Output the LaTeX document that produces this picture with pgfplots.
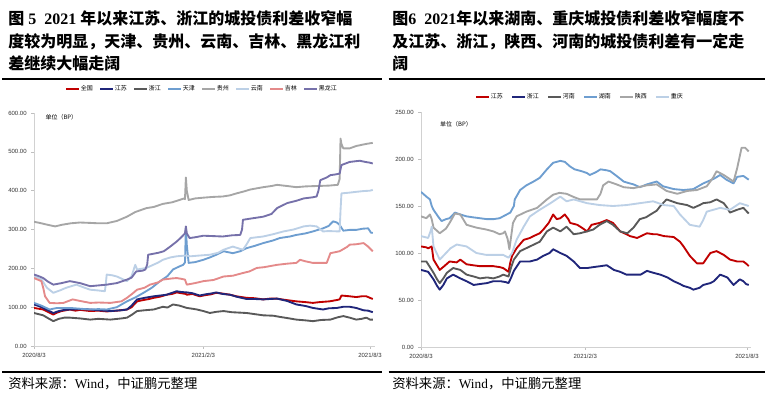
\documentclass[border=0pt]{standalone}
\usepackage{fontspec}
\usepackage{pgfplots}
\pgfplotsset{compat=1.18}
\setmainfont{Liberation Serif}
\newfontfamily\cjk{Noto Sans CJK SC}
\newfontfamily\cjkb{Noto Sans CJK SC Bold}
\newfontfamily\tickf{Liberation Sans}
\definecolor{cRed}{RGB}{192,0,0}
\definecolor{cNavy}{RGB}{32,38,122}
\definecolor{cDark}{RGB}{89,89,89}
\definecolor{cBlue}{RGB}{110,158,208}
\definecolor{cGray}{RGB}{166,166,166}
\definecolor{cLight}{RGB}{188,208,230}
\definecolor{cPink}{RGB}{228,138,138}
\definecolor{cPurple}{RGB}{118,113,170}
\pgfplotsset{
 mystyle/.style={
  scale only axis, axis x line=bottom, axis y line=left,
  axis line style={-, draw=black!18, line width=0.6pt},
  tick style={draw=black!25, line width=0.5pt},
  tick align=outside, major tick length=2pt,
  xmin=0, xmax=370, ymin=0,
  xtick={0,184,365}, xticklabels={2020/8/3,2021/2/3,2021/8/3},
  every tick label/.append style={font=\tickf\fontsize{4.5}{5}\selectfont, text=black!80},
  y tick label style={/pgf/number format/.cd, fixed, fixed zerofill, precision=2, assume math mode=true},
  scaled y ticks=false,
  legend style={draw=none, fill=none, legend columns=-1,
    font=\cjk\fontsize{4.5}{5}\selectfont,
    /tikz/every even column/.append style={column sep=4pt},
    nodes={inner sep=0.8pt}},
  legend image code/.code={\draw[##1, line width=1.4pt] (0pt,0pt) -- (9.5pt,0pt);},
  every axis plot/.append style={line width=1.4pt, line join=round},
 }
}
\begin{document}
\begin{tikzpicture}
\useasboundingbox (0,0) rectangle (577.5pt,-299.25pt);
% titles
\node[anchor=base west, inner sep=0, font=\fontsize{12}{14}\selectfont\bfseries] at (6pt,-18.75pt) {{\cjkb 图}~5~~2021~{\cjkb 年以来江苏、浙江的城投债利差收窄幅}};
\node[anchor=base west, inner sep=0, font=\fontsize{12}{14}\selectfont\bfseries] at (6pt,-36pt) {\cjkb 度较为明显，天津、贵州、云南、吉林、黑龙江利};
\node[anchor=base west, inner sep=0, font=\fontsize{12}{14}\selectfont\bfseries] at (6pt,-52.5pt) {\cjkb 差继续大幅走阔};
\node[anchor=base west, inner sep=0, font=\fontsize{12}{14}\selectfont\bfseries] at (294pt,-18.75pt) {{\cjkb 图}6~~2021{\cjkb 年以来湖南、重庆城投债利差收窄幅度不}};
\node[anchor=base west, inner sep=0, font=\fontsize{12}{14}\selectfont\bfseries] at (294pt,-36pt) {\cjkb 及江苏、浙江，陕西、河南的城投债利差有一定走};
\node[anchor=base west, inner sep=0, font=\fontsize{12}{14}\selectfont\bfseries] at (294pt,-52.5pt) {\cjkb 阔};
\draw[black, line width=1.1pt] (1.5pt,-59.25pt) -- (286.5pt,-59.25pt);
\draw[black, line width=1.1pt] (291.5pt,-59.25pt) -- (574pt,-59.25pt);
\draw[black, line width=1.1pt] (1.5pt,-279pt) -- (286.5pt,-279pt);
\draw[black, line width=1.1pt] (291.5pt,-279pt) -- (574pt,-279pt);
\node[anchor=base west, inner sep=0, font=\fontsize{10}{12}\selectfont] at (6pt,-291pt) {{\cjk 资料来源：}Wind{\cjk ，中证鹏元整理}};
\node[anchor=base west, inner sep=0, font=\fontsize{10}{12}\selectfont] at (294pt,-291pt) {{\cjk 资料来源：}Wind{\cjk ，中证鹏元整理}};

% left chart
\begin{axis}[mystyle, at={(25.5pt,-259.5pt)}, anchor=south west,
  width=255.45pt, height=174.75pt, ymax=600, ytick={0,100,...,600},
  legend style={at={(0.492,1.103)}, anchor=center}]
\addplot[cRed] coordinates {(0,98)(5,96)(10,94)(15,88)(21,81)(25,86)(30,90)(39,94)(45,91)(50,93)(61,90)(70,91)(79,89)(90,91)(101,94)(106,100)(112,115)(118,118)(125,121)(130,124)(137,127)(144,132)(150,134)(155,138)(160,136)(165,134)(166,132)(172,134)(180,128)(186,131)(192,133)(198,137)(205,135)(213,132)(220,128)(231,124)(240,123)(249,120)(256,122)(264,122)(272,119)(285,115)(295,113)(303,111)(310,113)(321,115)(328,118)(332,120)(334,130)(343,128)(350,126)(356,128)(361,128)(365,124)(368,121)};
\addlegendentry{全国}
\addplot[cNavy] coordinates {(0,107)(5,103)(10,98)(15,92)(21,85)(27,90)(33,93)(39,94)(50,95)(61,94)(70,92)(83,90)(95,92)(101,94)(106,104)(112,120)(120,124)(130,128)(137,130)(144,132)(150,137)(155,141)(160,139)(166,138)(172,136)(180,130)(186,133)(192,135)(198,138)(205,134)(213,132)(220,127)(231,121)(240,121)(249,120)(256,121)(264,122)(275,116)(285,107)(295,103)(303,98)(314,94)(320,97)(329,98)(336,101)(343,101)(350,98)(358,92)(363,91)(368,87)};
\addlegendentry{江苏}
\addplot[cDark] coordinates {(0,85)(5,82)(10,79)(15,72)(21,64)(27,70)(33,73)(39,73)(50,71)(61,68)(70,70)(83,68)(95,71)(101,73)(106,80)(112,90)(120,92)(130,94)(140,101)(145,99)(151,107)(158,104)(166,98)(172,96)(177,94)(184,90)(191,85)(198,88)(206,90)(215,87)(231,85)(240,82)(249,79)(260,78)(267,75)(275,72)(285,68)(295,66)(303,64)(312,67)(322,68)(330,74)(336,77)(343,73)(350,68)(356,70)(361,73)(365,68)(368,68)};
\addlegendentry{浙江}
\addplot[cBlue] coordinates {(0,111)(8,104)(17,94)(25,98)(39,98)(50,96)(61,94)(70,95)(79,94)(90,100)(101,115)(110,125)(119,137)(128,150)(137,167)(145,180)(151,197)(158,205)(162,209)(164,215)(165,303)(166,260)(168,214)(175,216)(184,222)(191,228)(198,235)(206,244)(216,239)(224,244)(231,252)(240,258)(249,265)(260,272)(267,278)(278,282)(285,286)(295,290)(303,295)(314,303)(320,309)(325,321)(329,318)(332,312)(336,297)(343,299)(350,299)(357,302)(363,303)(366,292)(368,291)};
\addlegendentry{天津}
\addplot[cGray] coordinates {(0,320)(8,316)(15,312)(23,308)(30,312)(40,316)(50,318)(61,317)(70,316)(79,316)(90,322)(101,333)(110,345)(122,355)(130,358)(140,366)(150,370)(158,376)(163,380)(164,378)(165,434)(166,400)(168,376)(175,380)(184,382)(195,384)(205,385)(213,388)(220,393)(228,398)(235,403)(249,409)(258,412)(264,415)(275,412)(285,409)(295,411)(307,412)(320,413)(330,415)(332,430)(333,534)(334,520)(336,509)(343,509)(350,515)(354,517)(360,520)(365,522)(368,523)};
\addlegendentry{贵州}
\addplot[cLight] coordinates {(0,179)(8,172)(14,150)(21,137)(28,143)(35,150)(46,158)(55,150)(61,145)(70,143)(77,141)(78,160)(79,184)(85,182)(90,179)(101,167)(106,180)(110,209)(112,197)(122,201)(135,215)(140,222)(148,228)(155,231)(165,233)(170,231)(180,233)(191,235)(200,240)(206,248)(216,256)(224,250)(227,248)(231,262)(235,278)(249,282)(260,288)(271,295)(282,300)(293,308)(300,310)(307,308)(314,295)(320,296)(332,295)(333,350)(334,393)(343,395)(350,397)(358,399)(365,400)(368,402)};
\addlegendentry{云南}
\addplot[cPink] coordinates {(0,175)(8,167)(10,150)(12,128)(17,111)(25,110)(32,111)(42,120)(50,116)(61,111)(70,112)(83,111)(95,115)(101,124)(107,135)(112,145)(120,150)(126,158)(135,164)(140,171)(150,174)(155,175)(160,173)(164,171)(166,158)(175,162)(184,167)(195,170)(206,179)(216,181)(227,188)(234,192)(242,201)(250,203)(264,209)(275,212)(285,214)(289,222)(295,218)(303,214)(312,214)(318,214)(322,239)(332,244)(340,255)(343,261)(350,262)(358,265)(363,256)(368,244)};
\addlegendentry{吉林}
\addplot[cPurple] coordinates {(0,184)(5,180)(10,175)(15,166)(21,158)(30,162)(39,167)(50,162)(61,154)(70,156)(79,158)(90,162)(101,171)(106,176)(111,192)(118,194)(121,197)(123,210)(124,235)(135,240)(141,244)(148,256)(155,269)(160,280)(164,290)(165,308)(166,290)(169,278)(175,280)(184,284)(195,283)(205,282)(215,285)(224,286)(226,300)(227,325)(235,328)(249,333)(258,340)(264,355)(275,368)(285,374)(293,380)(303,383)(307,385)(309,400)(311,427)(318,434)(322,440)(328,442)(332,444)(333,455)(334,466)(343,474)(350,476)(354,477)(360,474)(365,472)(368,470)};
\addlegendentry{黑龙江}
\node[anchor=west, inner sep=0, font=\cjk\fontsize{4.5}{5}\selectfont] at (rel axis cs:0.033,0.983) {单位（BP）};
\end{axis}

% right chart
\begin{axis}[mystyle, at={(315.75pt,-260.25pt)}, anchor=south west,
  width=247.8pt, height=176.25pt, ymax=250, ytick={0,50,...,250},
  legend style={at={(0.48,1.064)}, anchor=center, /tikz/every even column/.append style={column sep=5.5pt}}]
\addplot[cRed] coordinates {(0,107)(6,106)(8,105)(12,107)(14,93)(21,82)(26,86)(32,91)(40,90)(44,93)(51,88)(58,87)(66,86)(74,86)(81,86)(88,85)(92,84)(98,80)(100,90)(102,97)(107,105)(115,114)(122,116)(126,118)(133,121)(137,125)(143,132)(148,141)(152,136)(156,137)(161,141)(165,136)(167,132)(175,130)(180,127)(186,123)(191,130)(200,132)(208,135)(215,132)(223,123)(230,120)(234,118)(242,116)(253,121)(260,120)(264,120)(272,118)(283,117)(290,112)(294,107)(301,97)(309,89)(316,89)(324,100)(331,102)(339,98)(346,93)(354,91)(361,91)(365,88)(367,86)};
\addlegendentry{江苏}
\addplot[cNavy] coordinates {(0,82)(8,80)(14,72)(18,65)(21,61)(25,66)(29,73)(36,77)(44,73)(51,70)(59,66)(66,67)(74,68)(81,70)(89,70)(95,69)(98,68)(101,74)(104,81)(111,91)(122,91)(130,93)(137,97)(144,100)(148,104)(152,102)(156,100)(163,97)(171,91)(178,84)(186,84)(193,85)(201,86)(208,87)(216,82)(223,80)(230,77)(238,77)(246,77)(253,81)(260,79)(268,77)(276,74)(283,70)(290,67)(294,65)(301,63)(305,61)(312,63)(316,66)(324,68)(328,70)(335,77)(343,74)(350,66)(357,72)(361,70)(364,67)(367,66)};
\addlegendentry{浙江}
\addplot[cDark] coordinates {(0,91)(6,91)(10,85)(14,79)(18,72)(21,68)(25,73)(29,79)(36,84)(44,82)(51,77)(59,75)(66,73)(74,74)(81,73)(88,75)(92,77)(98,75)(101,85)(104,93)(111,102)(122,107)(133,112)(141,123)(148,127)(152,125)(156,123)(163,128)(167,124)(171,120)(178,121)(186,123)(193,125)(200,130)(208,134)(215,130)(223,123)(231,121)(238,127)(245,136)(252,138)(257,141)(264,145)(268,150)(275,157)(281,155)(287,153)(298,151)(305,148)(312,151)(316,153)(324,154)(331,157)(339,153)(343,148)(346,143)(354,146)(361,148)(364,145)(367,142)};
\addlegendentry{河南}
\addplot[cBlue] coordinates {(0,165)(6,160)(10,157)(12,150)(14,146)(19,139)(23,134)(28,136)(32,137)(38,143)(44,141)(51,139)(58,138)(66,137)(74,136)(81,136)(88,137)(92,139)(100,143)(104,150)(105,157)(111,167)(118,172)(126,176)(133,180)(141,189)(148,196)(156,198)(161,197)(167,192)(172,189)(180,187)(186,185)(189,183)(196,186)(201,189)(208,188)(212,187)(219,182)(227,176)(234,174)(238,173)(245,170)(253,173)(260,175)(264,176)(271,171)(283,168)(294,167)(305,168)(316,174)(328,179)(335,183)(342,178)(350,174)(354,181)(361,182)(364,180)(367,178)};
\addlegendentry{湖南}
\addplot[cGray] coordinates {(0,139)(6,137)(10,141)(12,136)(14,127)(21,121)(28,126)(32,132)(38,142)(44,141)(51,130)(62,127)(73,125)(81,123)(88,120)(92,121)(94,123)(97,115)(99,104)(103,132)(107,139)(118,144)(130,148)(141,157)(148,162)(155,164)(163,163)(170,160)(178,157)(189,157)(197,157)(201,163)(204,172)(210,176)(219,173)(227,170)(238,169)(253,172)(264,173)(275,166)(287,163)(298,166)(309,167)(320,171)(327,180)(331,187)(339,183)(350,176)(354,190)(359,212)(363,212)(367,208)};
\addlegendentry{陕西}
\addplot[cLight] coordinates {(0,118)(8,116)(11,124)(12,128)(14,107)(21,93)(28,100)(33,105)(40,109)(51,107)(62,100)(73,98)(84,98)(92,98)(98,95)(102,100)(107,114)(115,128)(122,139)(133,146)(145,153)(156,160)(163,155)(171,157)(186,153)(200,151)(215,150)(230,151)(245,153)(260,155)(272,151)(283,150)(290,141)(301,130)(312,128)(316,135)(320,144)(335,148)(346,146)(357,153)(367,150)};
\addlegendentry{重庆}
\node[anchor=west, inner sep=0, font=\cjk\fontsize{4.5}{5}\selectfont] at (rel axis cs:0.057,0.95) {单位（BP）};
\end{axis}
\end{tikzpicture}
\end{document}
